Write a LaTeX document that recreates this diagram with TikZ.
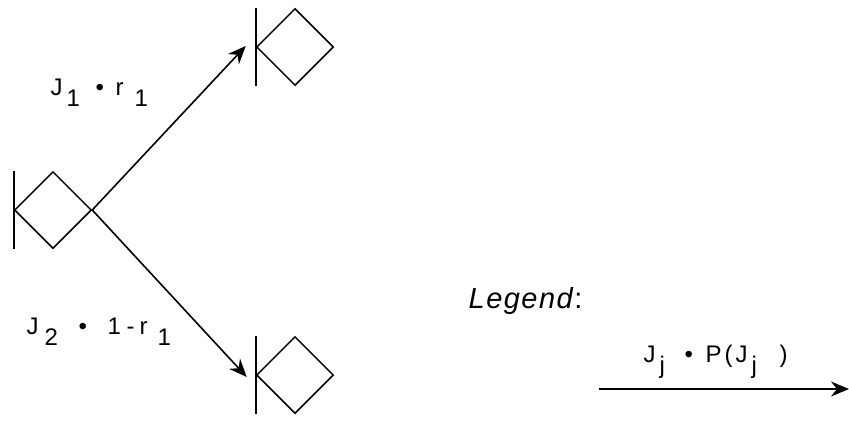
\documentclass[tikz,border=0pt]{standalone}
\usepackage{fontspec}
\setmainfont{Liberation Sans}
\usetikzlibrary{shapes.geometric,arrows.meta}
\newcommand{\gat}[2]{\hbox to 0pt{\hskip #1\relax #2\hss}}
\newcommand{\sbx}[1]{\raisebox{-11pt}{#1}}
\begin{document}
\begin{tikzpicture}[x=1pt,y=-1pt,
  every node/.style={font=\fontsize{24}{28}\selectfont},
  state/.style={shape=diamond,draw,line width=1.5pt,inner sep=0pt,minimum width=77pt,minimum height=77pt},
  arr/.style={line width=1.6pt,-{Stealth[length=18pt,width=15pt,inset=6pt]}},
  lbl/.style={anchor=base west,inner sep=0pt}]
\useasboundingbox (0,0) rectangle (849,423);
% nodes
\node[state] (L) at (53,210) {};
\node[state] (T) at (295,47) {};
\node[state] (B) at (295,375) {};
\foreach \n in {L,T,B}{
  \draw[line width=1.5pt] ([yshift=-39pt]\n.west) -- ([yshift=39pt]\n.west);
}
% connectors
\draw[arr] (L.east) -- ([xshift=-10pt,yshift=1pt]T.west);
\draw[arr] (L.east) -- ([xshift=-9pt,yshift=-2pt]B.west);
% labels
\node[lbl] (l1) at (50,95) {\gat{0pt}{J}\gat{16pt}{\sbx{1}}\gat{45pt}{\textbullet}\gat{65pt}{r}\gat{84pt}{\sbx{1}}};
\node[lbl] (l2) at (26,334) {\gat{0pt}{J}\gat{18pt}{\sbx{2}}\gat{52pt}{\textbullet}\gat{81pt}{1}\gat{100pt}{-}\gat{113pt}{r}\gat{131pt}{\sbx{1}}};
% legend
\node[lbl,font=\fontsize{29}{34}\selectfont\itshape] (lg) at (468,308) {\gat{0pt}{L}\gat{17.6pt}{e}\gat{35.2pt}{g}\gat{52.8pt}{e}\gat{70.4pt}{n}\gat{88pt}{d}\gat{105.6pt}{\upshape:}};
\coordinate (la) at (599,389);
\coordinate (lb) at (849,389);
\draw[arr] (la) -- (lb);
\node[lbl] (l3) at (643,362) {\gat{0pt}{J}\gat{16pt}{\sbx{j}}\gat{41pt}{\textbullet}\gat{62pt}{P}\gat{81pt}{(}\gat{92pt}{J}\gat{108pt}{\sbx{j}}\gat{136pt}{)}};
\end{tikzpicture}
\end{document}
